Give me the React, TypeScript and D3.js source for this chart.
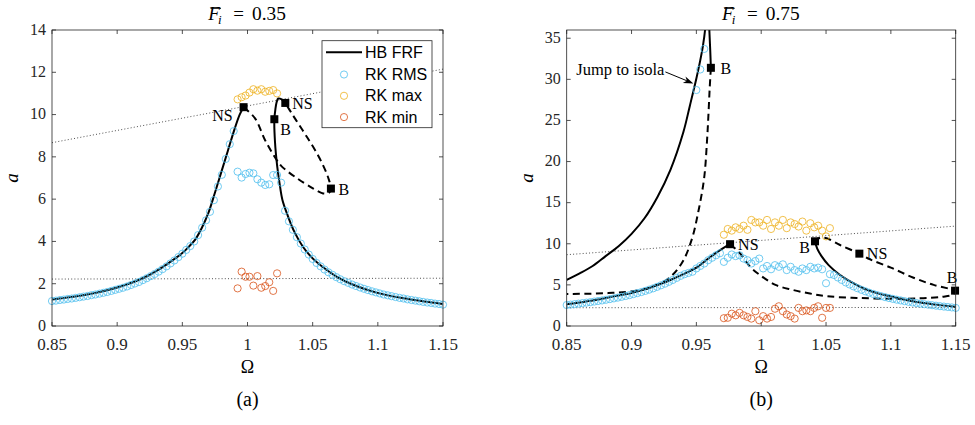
import React from "react";
import * as d3 from "d3";

type Pt = [number, number];

// ---------- shared axis data ----------
const omegaGrid = [0.8500,0.8530,0.8561,0.8591,0.8621,0.8652,0.8682,0.8712,0.8742,0.8773,0.8803,0.8833,0.8864,0.8894,0.8924,0.8955,0.8985,0.9015,0.9045,0.9076,0.9106,0.9136,0.9167,0.9197,0.9227,0.9258,0.9288,0.9318,0.9348,0.9379,0.9409,0.9439,0.9470,0.9500,0.9530,0.9561,0.9591,0.9621,0.9652,0.9682,0.9712,0.9742,0.9773,0.9803,0.9833,0.9864,0.9894,0.9924,0.9955,0.9985,1.0015,1.0045,1.0076,1.0106,1.0136,1.0167,1.0197,1.0227,1.0258,1.0288,1.0318,1.0348,1.0379,1.0409,1.0439,1.0470,1.0500,1.0530,1.0561,1.0591,1.0621,1.0652,1.0682,1.0712,1.0742,1.0773,1.0803,1.0833,1.0864,1.0894,1.0924,1.0955,1.0985,1.1015,1.1045,1.1076,1.1106,1.1136,1.1167,1.1197,1.1227,1.1258,1.1288,1.1318,1.1348,1.1379,1.1409,1.1439,1.1470,1.1500];
const xTickValues = [0.85, 0.9, 0.95, 1, 1.05, 1.1, 1.15];
const xTickLabels = ["0.85", "0.9", "0.95", "1", "1.05", "1.1", "1.15"];
const yTickValuesA = [0, 2, 4, 6, 8, 10, 12, 14];
const yTickValuesB = [0, 5, 10, 15, 20, 25, 30, 35];
const legendLabels = ["HB FRF", "RK RMS", "RK max", "RK min"];
const forcingLabels = ["0.35", "0.75"];
const captions = ["(a)", "(b)"];

// ---------- panel (a): F = 0.35 ----------
const hbA_lowSolid: Pt[] = [[0.85,1.25],[0.86,1.33],[0.87,1.42],[0.88,1.53],[0.89,1.66],[0.9,1.82],[0.91,2.02],[0.92,2.27],[0.93,2.6],[0.94,3.0],[0.95,3.45],[0.955,3.75],[0.96,4.1],[0.965,4.65],[0.97,5.35],[0.975,6.3],[0.98,7.3],[0.985,8.3],[0.99,9.3],[0.994,10.0],[0.997,10.35]];
const hbA_dashed: Pt[] = [[0.997,10.35],[1.0058,9.82],[1.0134,8.8],[1.0224,7.85],[1.0262,7.55],[1.0377,7.0],[1.0505,6.5],[1.058,6.27],[1.0625,6.3],[1.064,6.5],[1.062,7.0],[1.058,7.6],[1.052,8.3],[1.046,8.9],[1.0403,9.45],[1.0345,10.0],[1.029,10.55]];
const hbA_highSolid: Pt[] = [[1.029,10.55],[1.0262,10.72],[1.0236,10.76],[1.0222,10.55],[1.0213,10.2],[1.0206,9.78],[1.0211,8.7],[1.0228,7.55],[1.0246,6.75],[1.0268,5.96],[1.031,5.2],[1.036,4.45],[1.0425,3.75],[1.05,3.2],[1.058,2.78],[1.068,2.35],[1.081,1.95],[1.099,1.58],[1.12,1.31],[1.15,1.04]];
const rmsA = [1.18,1.20,1.23,1.25,1.28,1.30,1.33,1.36,1.39,1.42,1.46,1.49,1.53,1.57,1.61,1.66,1.71,1.76,1.81,1.87,1.94,2.01,2.08,2.17,2.26,2.36,2.46,2.57,2.69,2.82,2.96,3.10,3.26,3.42,3.60,3.78,4.00,4.30,4.65,5.00,5.40,5.95,6.60,7.15,7.90,8.60,9.22,7.30,7.02,7.19,7.25,7.22,6.94,6.78,6.67,6.70,7.14,7.14,6.78,5.45,4.95,4.55,4.20,3.90,3.62,3.38,3.17,2.98,2.82,2.67,2.54,2.42,2.31,2.21,2.12,2.04,1.96,1.89,1.82,1.76,1.70,1.64,1.59,1.54,1.49,1.45,1.41,1.37,1.33,1.30,1.26,1.23,1.20,1.17,1.14,1.11,1.09,1.06,1.04,1.01];
const qpStartA = 47;
const maxA = [10.72,10.82,10.90,11.04,11.20,11.13,11.20,11.08,11.12,11.16,11.00];
const minA = [1.78,2.57,2.33,2.33,1.91,2.36,1.81,1.89,2.07,1.66,2.49];
const bifOmegaA = [0.997, 1.0206, 1.029, 1.064];
const bifAmpA = [10.35, 9.78, 10.55, 6.5];
const bifLabelA = ["NS", "B", "NS", "B"];

// ---------- panel (b): F = 0.75 ----------
const hbB_isolaSolid: Pt[] = [[0.85,5.6],[0.86,6.4],[0.87,7.3],[0.88,8.5],[0.89,9.7],[0.9,11.2],[0.91,13.1],[0.92,15.7],[0.93,19.0],[0.94,23.6],[0.945,26.8],[0.95,30.1],[0.953,32.3],[0.955,34.0],[0.9567,36.0],[0.9578,39.0],[0.9592,39.0],[0.96,36.0],[0.9607,33.5],[0.9612,31.4]];
const hbB_isolaDashed: Pt[] = [[0.9612,31.4],[0.9603,29.0],[0.9594,26.0],[0.9582,22.5],[0.956,18.0],[0.9515,13.9],[0.9464,10.5],[0.9387,7.63],[0.927,5.6],[0.909,4.45],[0.882,4.0],[0.85,3.9]];
const hbB_lowSolid: Pt[] = [[0.85,2.65],[0.86,2.87],[0.87,3.1],[0.88,3.4],[0.89,3.72],[0.9,4.0],[0.91,4.45],[0.92,5.0],[0.93,5.6],[0.94,6.3],[0.95,7.1],[0.96,8.3],[0.968,9.2],[0.976,9.95]];
const hbB_dashed: Pt[] = [[0.976,9.95],[0.9837,8.84],[0.9914,7.21],[0.9991,6.2],[1.011,5.0],[1.024,4.4],[1.0376,3.95],[1.0505,3.62],[1.0736,3.42],[1.1019,3.3],[1.125,3.38],[1.14,3.55],[1.148,3.85],[1.1495,4.3],[1.147,4.45],[1.133,5.0],[1.117,5.9],[1.1,7.1],[1.084,8.1],[1.0757,8.8],[1.0608,9.85],[1.0505,10.67],[1.046,10.72],[1.0425,10.55],[1.0415,10.3]];
const hbB_highSolid: Pt[] = [[1.0415,10.3],[1.0432,9.4],[1.0465,8.5],[1.052,7.4],[1.06,6.3],[1.07,5.3],[1.08,4.5],[1.09,3.97],[1.1,3.6],[1.117,3.0],[1.135,2.6],[1.15,2.35]];
const rmsB = [2.55,2.60,2.66,2.72,2.78,2.84,2.90,2.97,3.04,3.11,3.19,3.27,3.36,3.45,3.55,3.65,3.76,3.88,4.00,4.13,4.27,4.42,4.58,4.76,4.95,5.15,5.37,5.60,5.85,6.10,6.30,6.45,6.60,7.00,7.30,7.60,8.00,8.30,8.60,8.85,7.8,8.3,8.7,8.5,8.6,8.2,8.0,7.6,7.9,8.2,7.0,7.3,6.9,7.4,7.2,7.5,6.8,7.2,6.8,6.6,7.0,6.8,7.2,7.0,7.1,6.9,5.2,6.3,6.2,5.9,5.6,5.3,5.05,4.82,4.6,4.4,4.22,4.05,3.9,3.76,3.63,3.51,3.4,3.3,3.2,3.11,3.02,2.94,2.86,2.79,2.72,2.65,2.59,2.53,2.47,2.41,2.36,2.31,2.26,2.2];
const qpStartB = 40;
const maxB = [11.1,11.8,11.6,12.0,11.8,12.2,11.7,12.9,12.6,12.6,12.2,12.9,11.8,12.6,12.2,12.9,11.9,12.6,12.4,12.1,12.7,11.6,12.5,12.0,12.2,11.6,10.9,11.9];
const minB = [0.95,1.0,1.5,1.3,1.6,1.3,1.1,0.9,1.8,0.7,1.2,0.9,1.1,2.1,2.4,1.8,1.4,1.2,0.9,2.2,1.8,1.9,1.8,2.2,2.4,1.0,2.2,2.2];
const isolaOmegaB = [0.9500, 0.9530, 0.9561];
const isolaRmsB = [28.7, 31.2, 33.7];
const bifOmegaB = [0.9612, 0.976, 1.0415, 1.0757, 1.1495];
const bifAmpB = [31.4, 9.95, 10.3, 8.8, 4.3];
const bifLabelB = ["B", "NS", "B", "NS", "B"];
const arrowText = "Jump to isola";
const arrowTail: Pt = [0.9261, 30.9];
const arrowTip: Pt = [0.9477, 29.5];

// ---------- dotted reference lines (both panels) ----------
const refUpper: Pt[] = [[0.85, 8.67], [1.15, 12.15]];
const refLower: Pt[] = [[0.85, 2.22], [1.15, 2.26]];

// ---------- styling ----------
const BLUE = "#4DBEEE";
const YELLOW = "#EDB120";
const RED = "#D95319";
const AXIS = "#262626";
const SERIF = "Liberation Serif, Tinos, DejaVu Serif, serif";
const SANS = "Liberation Sans, Arimo, Arial, sans-serif";

type LabelLayout = { dx: number; dy: number; anchor: "start" | "end" | "middle" };
const labelLayoutA: LabelLayout[] = [
  { dx: -11, dy: 14, anchor: "end" },
  { dx: 6, dy: 16, anchor: "start" },
  { dx: 7, dy: 6, anchor: "start" },
  { dx: 7.5, dy: 6, anchor: "start" },
];
const labelLayoutB: LabelLayout[] = [
  { dx: 9.5, dy: 6, anchor: "start" },
  { dx: 8, dy: 6, anchor: "start" },
  { dx: -5, dy: 12, anchor: "end" },
  { dx: 7.5, dy: 5.5, anchor: "start" },
  { dx: -3, dy: -8, anchor: "middle" },
];

interface PanelProps {
  id: string;
  left: number;
  right: number;
  yMax: number;
  yTicks: number[];
  solids: Pt[][];
  dashes: Pt[][];
  rms: number[];
  maxV: number[];
  minV: number[];
  qpStart: number;
  extraOmega?: number[];
  extraRms?: number[];
  bifW: number[];
  bifA: number[];
  bifL: string[];
  layout: LabelLayout[];
  forcing: string;
  caption: string;
  showLegend?: boolean;
  showArrow?: boolean;
}

function Panel(p: PanelProps) {
  const top = 30;
  const bottom = 326;
  const x = d3.scaleLinear().domain([0.85, 1.15]).range([p.left, p.right]);
  const y = d3.scaleLinear().domain([0, p.yMax]).range([bottom, top]);
  const curve = d3
    .line<Pt>()
    .x((d) => x(d[0]))
    .y((d) => y(d[1]))
    .curve(d3.curveCatmullRom.alpha(0.5));
  const straight = d3
    .line<Pt>()
    .x((d) => x(d[0]))
    .y((d) => y(d[1]));
  const cx = (p.left + p.right) / 2;
  const clip = `clip-${p.id}`;
  const r = 3.6;
  const tick = 4;

  const qpOmega = p.maxV.map((_, i) => omegaGrid[p.qpStart + i]);

  let arrowEls: React.ReactNode = null;
  if (p.showArrow) {
    const tx = x(arrowTail[0]);
    const ty = y(arrowTail[1]);
    const hx = x(arrowTip[0]);
    const hy = y(arrowTip[1]);
    const ang = Math.atan2(hy - ty, hx - tx);
    const L = 10;
    const W = 3.5;
    const bx = hx - L * Math.cos(ang);
    const by = hy - L * Math.sin(ang);
    const nx = -Math.sin(ang);
    const ny = Math.cos(ang);
    const mx = hx - 0.7 * L * Math.cos(ang);
    const my = hy - 0.7 * L * Math.sin(ang);
    const head = `M${hx},${hy} L${bx + nx * W},${by + ny * W} L${mx},${my} L${bx - nx * W},${by - ny * W} Z`;
    arrowEls = (
      <g>
        <line x1={tx} y1={ty} x2={mx} y2={my} stroke="#000" strokeWidth={1} />
        <path d={head} fill="#000" />
        <text x={tx - 1} y={ty + 3} textAnchor="end" fontFamily={SERIF} fontSize={16.5}>
          {arrowText}
        </text>
      </g>
    );
  }

  return (
    <g>
      <defs>
        <clipPath id={clip}>
          <rect x={p.left} y={top} width={p.right - p.left} height={bottom - top} />
        </clipPath>
      </defs>
      <rect x={p.left} y={top} width={p.right - p.left} height={bottom - top} fill="#fff" />

      {/* HB FRF curves */}
      <g clipPath={`url(#${clip})`}>
        {[refUpper, refLower].map((d, i) => (
          <path key={`ref${i}`} d={straight(d) || ""} fill="none" stroke="#222" strokeWidth={0.8} strokeDasharray="1,2.2" />
        ))}
        {p.solids.map((d, i) => (
          <path key={`s${i}`} d={curve(d) || ""} fill="none" stroke="#000" strokeWidth={2} strokeLinejoin="round" />
        ))}
        {p.dashes.map((d, i) => (
          <path key={`d${i}`} d={curve(d) || ""} fill="none" stroke="#000" strokeWidth={2} strokeDasharray="7,4.5" />
        ))}
      </g>

      {/* RK markers */}
      <g fill="none" strokeWidth={0.8}>
        {p.rms.map((v, i) => (
          <circle key={`r${i}`} cx={x(omegaGrid[i])} cy={y(v)} r={r} stroke={BLUE} />
        ))}
        {(p.extraOmega || []).map((w, i) => (
          <circle key={`e${i}`} cx={x(w)} cy={y((p.extraRms || [])[i])} r={r} stroke={BLUE} />
        ))}
        {p.maxV.map((v, i) => (
          <circle key={`mx${i}`} cx={x(qpOmega[i])} cy={y(v)} r={r} stroke={YELLOW} />
        ))}
        {p.minV.map((v, i) => (
          <circle key={`mn${i}`} cx={x(qpOmega[i])} cy={y(v)} r={r} stroke={RED} />
        ))}
      </g>

      {/* bifurcation points */}
      {p.bifW.map((w, i) => (
        <g key={`b${i}`}>
          <rect x={x(w) - 4} y={y(p.bifA[i]) - 4} width={8} height={8} fill="#000" />
          <text
            x={x(w) + p.layout[i].dx}
            y={y(p.bifA[i]) + p.layout[i].dy}
            textAnchor={p.layout[i].anchor}
            fontFamily={SERIF}
            fontSize={16}
          >
            {p.bifL[i]}
          </text>
        </g>
      ))}

      {arrowEls}

      {/* axes box and ticks */}
      <rect x={p.left} y={top} width={p.right - p.left} height={bottom - top} fill="none" stroke={AXIS} strokeWidth={0.8} />
      {xTickValues.map((v, i) => (
        <g key={`xt${i}`}>
          <line x1={x(v)} x2={x(v)} y1={bottom} y2={bottom - tick} stroke={AXIS} strokeWidth={0.8} />
          <line x1={x(v)} x2={x(v)} y1={top} y2={top + tick} stroke={AXIS} strokeWidth={0.8} />
          <text x={x(v)} y={349.5} textAnchor="middle" fontFamily={SERIF} fontSize={17} fill="#262626">
            {xTickLabels[i]}
          </text>
        </g>
      ))}
      {p.yTicks.map((v, i) => (
        <g key={`yt${i}`}>
          <line x1={p.left} x2={p.left + tick} y1={y(v)} y2={y(v)} stroke={AXIS} strokeWidth={0.8} />
          <line x1={p.right} x2={p.right - tick} y1={y(v)} y2={y(v)} stroke={AXIS} strokeWidth={0.8} />
          <text x={p.left - 6} y={y(v) + 4.8} textAnchor="end" fontFamily={SERIF} fontSize={16} fill="#262626">
            {String(v)}
          </text>
        </g>
      ))}

      {/* axis labels */}
      <text x={cx} y={373} textAnchor="middle" fontFamily={SERIF} fontSize={18}>
        Ω
      </text>
      <text
        transform={`translate(${p.left - 34},${(top + bottom) / 2}) rotate(-90)`}
        textAnchor="middle"
        fontFamily={SERIF}
        fontStyle="italic"
        fontSize={19}
      >
        a
      </text>

      {/* title */}
      <g fontFamily={SERIF}>
        <text x={cx - 39.2} y={20} fontStyle="italic" fontSize={19}>F</text>
        <line x1={cx - 37} x2={cx - 26.5} y1={8.3} y2={8.3} stroke="#000" strokeWidth={1} />
        <text x={cx - 29.5} y={24} fontStyle="italic" fontSize={13}>i</text>
        <text x={cx - 14.2} y={20} fontSize={19}>=</text>
        <text x={cx + 4.5} y={20} fontSize={19.4}>{p.forcing}</text>
      </g>

      {/* caption */}
      <text x={cx} y={406} textAnchor="middle" fontFamily={SERIF} fontSize={20}>
        {p.caption}
      </text>

      {/* legend */}
      {p.showLegend && (
        <g>
          <rect x={p.right - 121} y={40.7} width={110} height={87} fill="#fff" stroke={AXIS} strokeWidth={0.8} />
          <line x1={p.right - 117} x2={p.right - 81} y1={52.3} y2={52.3} stroke="#000" strokeWidth={2} />
          {[BLUE, YELLOW, RED].map((c, i) => (
            <circle key={`lg${i}`} cx={p.right - 99} cy={74.5 + i * 21.3} r={r} fill="none" stroke={c} strokeWidth={0.8} />
          ))}
          {legendLabels.map((t, i) => (
            <text key={`lt${i}`} x={p.right - 78} y={52.3 + i * 21.5 + 5.8} fontFamily={SANS} fontSize={16}>
              {t}
            </text>
          ))}
        </g>
      )}
    </g>
  );
}

export default function App() {
  return (
    <svg
      width={975}
      height={425}
      viewBox="0 0 975 425"
      style={{ position: "absolute", left: 0, top: 0, background: "#fff" }}
    >
      <rect x={0} y={0} width={975} height={425} fill="#fff" />
      <Panel
        id="a"
        left={52}
        right={443}
        yMax={14}
        yTicks={yTickValuesA}
        solids={[hbA_lowSolid, hbA_highSolid]}
        dashes={[hbA_dashed]}
        rms={rmsA}
        maxV={maxA}
        minV={minA}
        qpStart={qpStartA}
        bifW={bifOmegaA}
        bifA={bifAmpA}
        bifL={bifLabelA}
        layout={labelLayoutA}
        forcing={forcingLabels[0]}
        caption={captions[0]}
        showLegend
      />
      <Panel
        id="b"
        left={566.7}
        right={955.7}
        yMax={36}
        yTicks={yTickValuesB}
        solids={[hbB_isolaSolid, hbB_lowSolid, hbB_highSolid]}
        dashes={[hbB_isolaDashed, hbB_dashed]}
        rms={rmsB}
        maxV={maxB}
        minV={minB}
        qpStart={qpStartB}
        extraOmega={isolaOmegaB}
        extraRms={isolaRmsB}
        bifW={bifOmegaB}
        bifA={bifAmpB}
        bifL={bifLabelB}
        layout={labelLayoutB}
        forcing={forcingLabels[1]}
        caption={captions[1]}
        showArrow
      />
    </svg>
  );
}
